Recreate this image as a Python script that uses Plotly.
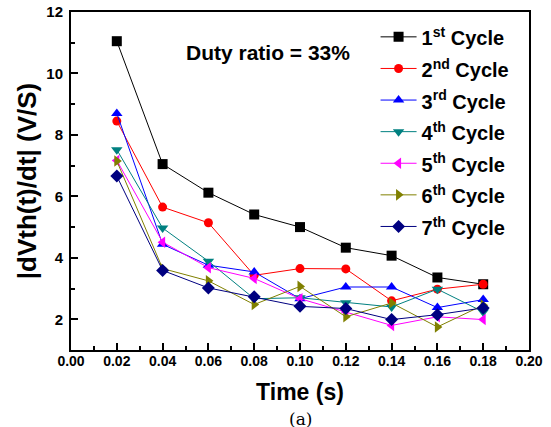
import plotly.graph_objects as go

time = [0.02, 0.04, 0.06, 0.08, 0.10, 0.12, 0.14, 0.16, 0.18]
cycle1 = [11.05, 7.05, 6.12, 5.41, 5.00, 4.33, 4.07, 3.36, 3.14]
cycle2 = [8.45, 5.65, 5.14, 3.43, 3.65, 3.64, 2.60, 2.98, 3.14]
cycle3 = [8.70, 4.44, 3.76, 3.54, 2.67, 3.05, 3.05, 2.38, 2.64]
cycle4 = [7.52, 4.97, 3.89, 2.67, 2.70, 2.54, 2.40, 2.98, 2.24]
cycle5 = [7.17, 4.51, 3.68, 3.33, 2.67, 2.24, 1.80, 2.08, 1.99]
cycle6 = [7.15, 3.65, 3.25, 2.48, 3.07, 2.08, 2.53, 1.75, 2.46]
cycle7 = [6.66, 3.59, 3.02, 2.73, 2.42, 2.35, 1.99, 2.15, 2.37]

names = ["1<sup>st</sup> Cycle", "2<sup>nd</sup> Cycle", "3<sup>rd</sup> Cycle",
         "4<sup>th</sup> Cycle", "5<sup>th</sup> Cycle", "6<sup>th</sup> Cycle",
         "7<sup>th</sup> Cycle"]
series = [cycle1, cycle2, cycle3, cycle4, cycle5, cycle6, cycle7]
colors = ["#000000", "#FF0000", "#0000FF", "#008080", "#FF00FF", "#808000", "#000080"]
symbols = ["square", "circle", "triangle-up", "triangle-down", "triangle-left",
           "triangle-right", "diamond"]

FONT = "Arial, Liberation Sans, sans-serif"

fig = go.Figure()
for nm, ys, c, s in zip(names, series, colors, symbols):
    fig.add_trace(go.Scatter(
        x=time, y=ys, mode="lines+markers",
        name='<span style="font-size:20px">' + nm + '</span>',
        line=dict(color=c, width=1),
        marker=dict(symbol=s, color=c, size=10 if s != "circle" else 9),
    ))

fig.update_layout(
    width=551, height=427,
    margin=dict(l=71, r=22, t=12, b=77),
    paper_bgcolor="white", plot_bgcolor="white",
    font=dict(family=FONT, color="black"),
    showlegend=True,
    legend=dict(
        x=0.665, y=0.988, xanchor="left", yanchor="top",
        bgcolor="rgba(0,0,0,0)", borderwidth=0,
        font=dict(family=FONT, size=22, color="black", weight="bold"),
        tracegroupgap=0, itemwidth=36,
    ),
    annotations=[
        dict(text="<b>Duty ratio = 33%</b>", x=0.0495, y=10.68, xref="x", yref="y",
             xanchor="left", yanchor="middle", showarrow=False,
             font=dict(family=FONT, size=21, color="black")),
        dict(text="(a)", x=0.5, y=-0.17, xref="paper", yref="paper",
             xanchor="center", yanchor="top", showarrow=False,
             font=dict(family="DejaVu Serif, serif", size=17, color="black")),
    ],
)

fig.update_xaxes(
    range=[0, 0.2], tickvals=[0, 0.02, 0.04, 0.06, 0.08, 0.10, 0.12, 0.14, 0.16, 0.18, 0.20],
    tickformat=".2f", automargin=False, ticklabelstandoff=-3,
    ticks="inside", ticklen=7, tickwidth=1.5, tickcolor="black",
    minor=dict(dtick=0.01, ticks="inside", ticklen=4, tickwidth=1.5, tickcolor="black", tick0=0),
    showline=True, linecolor="black", linewidth=2, mirror=True,
    showgrid=False, zeroline=False,
    tickfont=dict(family=FONT, size=14, color="black", weight="bold"),
    title=dict(text="<b>Time (s)</b>", font=dict(family=FONT, size=23, color="black"), standoff=16),
)
fig.update_yaxes(
    range=[1, 12], tickvals=[2, 4, 6, 8, 10, 12], automargin=False, ticklabelstandoff=3,
    ticks="inside", ticklen=7, tickwidth=1.5, tickcolor="black",
    minor=dict(tickvals=[1, 3, 5, 7, 9, 11], ticks="inside", ticklen=4, tickwidth=1.5, tickcolor="black"),
    showline=True, linecolor="black", linewidth=2, mirror=True,
    showgrid=False, zeroline=False,
    tickfont=dict(family=FONT, size=15, color="black", weight="bold"),
    title=dict(text="<b>|dVth(t)/dt| (V/S)</b>", font=dict(family=FONT, size=26, color="black"), standoff=2),
)

fig.write_html("out.html", config={"displayModeBar": False},
               post_script="document.body.style.margin='0';document.body.style.padding='0';")
